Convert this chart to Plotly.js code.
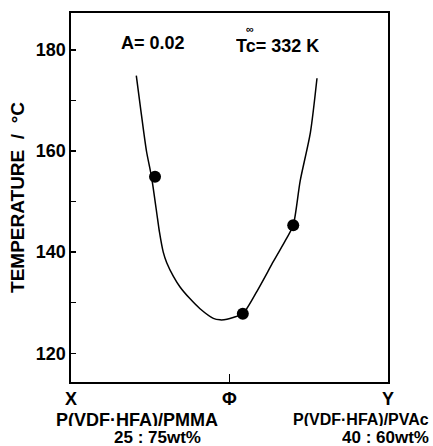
<!DOCTYPE html>
<html>
<head>
<meta charset="utf-8">
<script src="https://cdn.plot.ly/plotly-3.0.1.min.js"></script>
<style>html,body{margin:0;padding:0;background:#fff;}#chart{width:433px;height:446px;}</style>
</head>
<body>
<div id="chart"></div>
<script>
// Fitted curve (composition fraction, temperature °C)
const curveX = [0.206, 0.220, 0.238, 0.254, 0.273, 0.279, 0.291, 0.302, 0.323, 0.344, 0.375, 0.407, 0.449, 0.470, 0.492, 0.514, 0.542, 0.587, 0.639, 0.681, 0.701, 0.723, 0.755, 0.776];
const curveT = [174.9, 168.2, 160.0, 154.9, 146.6, 144.0, 140.0, 137.9, 135.2, 133.1, 130.8, 128.8, 126.9, 126.6, 126.7, 127.1, 127.8, 132.3, 138.2, 142.8, 145.3, 154.1, 163.6, 174.4];
// Measured points
const ptX = [0.265, 0.542, 0.701];
const ptT = [154.9, 127.8, 145.3];
// Axis labels
const yTickVals = [120, 140, 160, 180];
const xTickVals = [0, 0.5, 1];
const xTickText = ['X', 'Φ', 'Y'];
const leftName = 'P(VDF·HFA)/PMMA';
const leftRatio = '25 : 75wt%';
const rightName = 'P(VDF·HFA)/PVAc';
const rightRatio = '40 : 60wt%';
const paramA = 'A= 0.02';
const paramTc = 'Tc= 332 K';

const F = 'Liberation Sans, Arial, Helvetica, sans-serif';
const font = (s) => ({family: F, size: s, color: '#000', weight: 'bold'});
const px = (p) => (p - 71) / 317;
const py = (p) => (382 - p) / 369;

const traces = [
  {x: curveX, y: curveT, mode: 'lines', line: {color: '#000', width: 1.5, shape: 'spline', smoothing: 0.7}, hoverinfo: 'skip'},
  {x: ptX, y: ptT, mode: 'markers', marker: {color: '#000', size: 12}}
];

const ann = (x, y, text, size, anchor, h) => ({xref: 'paper', yref: 'paper', x: px(x), y: py(y), text: text, showarrow: false, font: font(size), xanchor: anchor || 'center', yanchor: 'middle', height: h || null});

const layout = {
  width: 433, height: 446,
  margin: {l: 71, r: 45, t: 13, b: 64},
  paper_bgcolor: '#fff', plot_bgcolor: '#fff',
  showlegend: false,
  font: font(17),
  xaxis: {
    range: [0, 1], showgrid: false, zeroline: false,
    showline: true, linecolor: '#000', linewidth: 1.6, mirror: true,
    tickvals: xTickVals, ticktext: xTickText,
    ticks: 'inside', ticklen: 8, tickwidth: 1.2, tickcolor: '#000',
    tickfont: font(18), ticklabelstandoff: 0
  },
  yaxis: {
    range: [114.3, 187.3], showgrid: false, zeroline: false,
    showline: true, linecolor: '#000', linewidth: 1.6, mirror: true,
    tickvals: yTickVals, ticks: 'inside', ticklen: 5, tickwidth: 1.2, tickcolor: '#000',
    minor: {dtick: 10, ticks: 'inside', ticklen: 5, tickcolor: '#000', tickwidth: 1.2},
    tickfont: font(18),
    title: {text: 'TEMPERATURE  /  °C', font: font(19), standoff: 6}
  },
  annotations: [
    ann(153, 43, paramA, 18),
    ann(277, 45, paramTc, 18, 'center', 13),
    ann(250, 29, '∞', 11, 'center', 6),
    ann(137, 420, leftName, 18, 'center', 13),
    ann(157, 437, leftRatio, 17, 'center', 13),
    ann(431, 420, rightName, 16, 'right', 13),
    ann(431, 437, rightRatio, 17, 'right', 13)
  ]
};

Plotly.newPlot('chart', traces, layout, {staticPlot: true, displayModeBar: false});
</script>
</body>
</html>
